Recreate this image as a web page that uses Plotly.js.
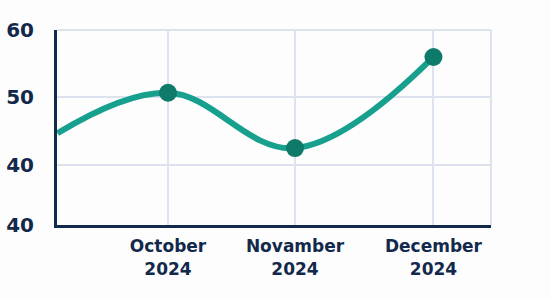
<!DOCTYPE html>
<html><head><meta charset="utf-8">
<script src="https://cdn.plot.ly/plotly-3.0.1.min.js"></script>
<style>html,body{margin:0;padding:0;background:#fdfdfe;}#chart{width:550px;height:300px;}</style>
</head><body><div id="chart"></div>
<script>
// data
const xPos = [0.13, 1, 2, 3.09];              // month positions (start edge, Oct, Nov, Dec)
const values = [44.7, 50.7, 42.5, 56.0];
const markerX = [1, 2, 3.09];
const markerVals = [50.7, 42.5, 56.0];
const xTickVals = [1, 2, 3.09];
const xTickText = ['October<br>2024', 'Novamber<br>2024', 'December<br>2024'];
const yTickVals = [31.1, 40, 50, 60];
const yTickText = ['40', '40', '50', '60'];

const navy = '#13294b';
const grid = '#dde3ee';

const traces = [
  {x: xPos, y: values, mode: 'lines', line: {shape: 'spline', smoothing: 1.1, color: '#17a08e', width: 6}, hoverinfo: 'none'},
  {x: markerX, y: markerVals, mode: 'markers', marker: {color: '#0e7a69', size: 18}, hoverinfo: 'none'}
];

const layout = {
  width: 550, height: 300,
  margin: {l: 57, r: 59, t: 30, b: 75},
  paper_bgcolor: '#fdfdfe', plot_bgcolor: '#fdfdfe',
  showlegend: false,
  font: {family: 'DejaVu Sans', color: navy},
  xaxis: {range: [0.126, 3.543], tickvals: xTickVals, ticktext: xTickText,
    showgrid: true, gridcolor: grid, gridwidth: 2, zeroline: false,
    showline: true, linecolor: navy, linewidth: 3,
    tickfont: {size: 17, weight: 'bold', color: navy}, ticklabelstandoff: 4, ticks: ''},
  yaxis: {range: [31.1, 60], tickvals: yTickVals, ticktext: yTickText,
    showgrid: true, gridcolor: grid, gridwidth: 2, zeroline: false,
    showline: true, linecolor: navy, linewidth: 3,
    tickfont: {size: 20, weight: 'bold', color: navy}, ticklabelstandoff: 16, ticks: ''},
  shapes: [
    {type: 'line', xref: 'paper', yref: 'paper', x0: 1, x1: 1, y0: 0, y1: 1, line: {color: grid, width: 2}, layer: 'below'},
    {type: 'line', xref: 'paper', yref: 'paper', x0: 0, x1: 1, y0: 1, y1: 1, line: {color: grid, width: 2}, layer: 'below'}
  ]
};
Plotly.newPlot('chart', traces, layout, {displayModeBar: false, staticPlot: true});
</script></body></html>
